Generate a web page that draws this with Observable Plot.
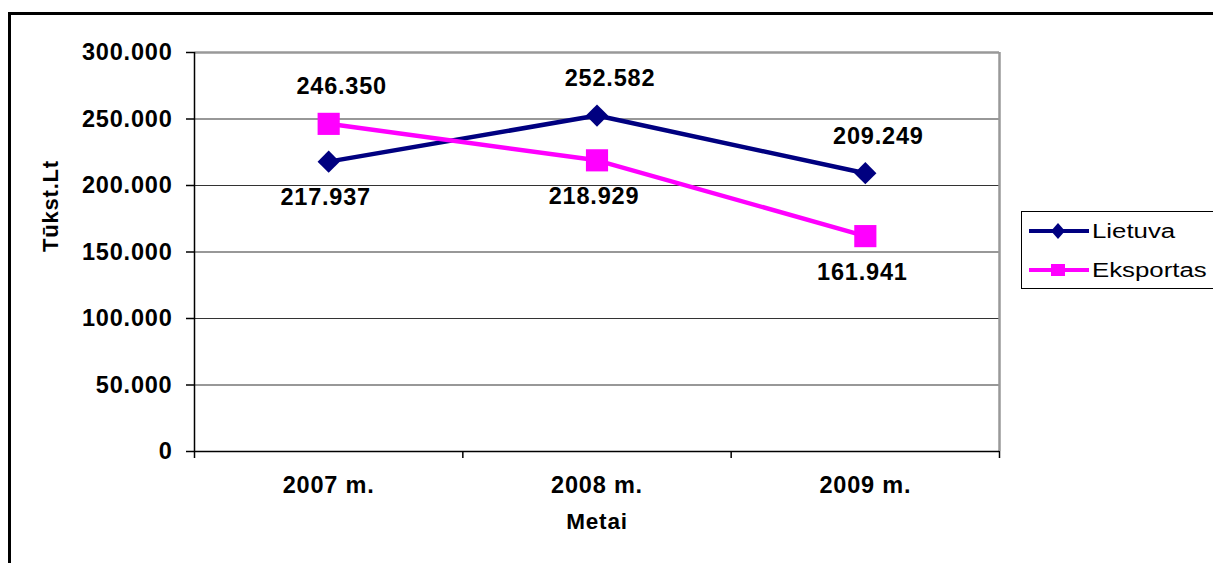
<!DOCTYPE html>
<html>
<head>
<meta charset="utf-8">
<script src="https://cdn.jsdelivr.net/npm/d3@7"></script>
<script src="https://cdn.jsdelivr.net/npm/@observablehq/plot@0.6"></script>
<style>
  html, body { margin: 0; padding: 0; width: 1213px; height: 563px; overflow: hidden; background: #fff; }
  #frame { position: absolute; left: 8px; top: 12px; width: 1400px; height: 800px; border: 3px solid #000; pointer-events: none; z-index: 3; }
  #chart { position: absolute; left: 0; top: 0; z-index: 1; }
  #legend { position: absolute; left: 1021px; top: 211px; width: 300px; height: 76px; border: 1.5px solid #000; background: #fff; z-index: 2;
            font-family: "Liberation Sans", Arial, sans-serif; font-size: 20px; color: #000; }
  .item { position: absolute; left: 6px; height: 24px; display: flex; align-items: center; }
  .item svg { display: block; }
  .item span { display: inline-block; transform: scaleX(1.29); transform-origin: left center; margin-left: 2px; }
</style>
</head>
<body>
<div id="frame"></div>
<div id="chart"></div>
<div id="legend"></div>
<script>
// ---- data ----
const categories = ["2007 m.", "2008 m.", "2009 m."];
const seriesNames = ["Lietuva", "Eksportas"];
const lietuva = [217937, 252582, 209249];
const eksportas = [246350, 218929, 161941];
const yTicks = [0, 50000, 100000, 150000, 200000, 250000, 300000];
const seriesColors = ["#000080", "#FF00FF"];
const xTitle = "Metai";
const yTitle = "Tūkst.Lt";

const fmt = d3.formatLocale({decimal: ",", thousands: ".", grouping: [3], currency: ["", ""]}).format(",d");

const values = [lietuva, eksportas];
const rows = [];
seriesNames.forEach((s, k) => {
  values[k].forEach((v, i) => {
    rows.push({series: s, i, value: v, other: values[1 - k][i]});
  });
});
const boundaries = d3.range(categories.length + 1).map(j => j - 0.5);
const catIdx = categories.map((_, i) => i);

const chart = Plot.plot({
  width: 1213,
  height: 563,
  marginLeft: 194,
  marginRight: 214,
  marginTop: 52,
  marginBottom: 112,
  style: {fontFamily: "'Liberation Sans', Arial, sans-serif", fontSize: "23.5px", fontWeight: "bold", letterSpacing: "0.8px", color: "#000", background: "transparent", overflow: "visible"},
  x: {type: "linear", domain: [-0.5, categories.length - 0.5]},
  y: {domain: [yTicks[0], yTicks[yTicks.length - 1]]},
  color: {domain: seriesNames, range: seriesColors},
  marks: [
    Plot.ruleY(yTicks.slice(1, -1), {stroke: "#333", strokeWidth: 1.2}),
    Plot.ruleY([yTicks[yTicks.length - 1]], {stroke: "#999", strokeWidth: 2.5}),
    Plot.ruleX([boundaries[boundaries.length - 1]], {stroke: "#999", strokeWidth: 2.5}),
    Plot.ruleX([boundaries[0]], {stroke: "#000", strokeWidth: 1.5}),
    Plot.ruleY([0], {stroke: "#000", strokeWidth: 1.5}),
    Plot.axisY({ticks: yTicks, tickSize: 8, tickPadding: 14, tickFormat: fmt, label: null, strokeWidth: 1.5}),
    Plot.axisX({ticks: boundaries, tickSize: 7, tickFormat: () => "", label: null, strokeWidth: 1.5}),
    Plot.axisX({ticks: catIdx, tickSize: 0, tickPadding: 25, tickFormat: i => categories[i], label: null}),
    Plot.text([yTitle], {frameAnchor: "left", rotate: -90, dx: -144, fontSize: 22, letterSpacing: "1.2px"}),
    Plot.text([xTitle], {frameAnchor: "bottom", dy: 77, fontSize: 22.5, letterSpacing: "1.6px"}),
    Plot.line(rows, {x: "i", y: "value", z: "series", stroke: "series", strokeWidth: 4.5}),
    Plot.dot(rows.filter(d => d.series === seriesNames[0]), {x: "i", y: "value", symbol: "diamond2", r: 10, fill: seriesColors[0], stroke: "none"}),
    Plot.dot(rows.filter(d => d.series === seriesNames[1]), {x: "i", y: "value", symbol: "square", r: 12.5, fill: seriesColors[1], stroke: "none"}),
    Plot.text(rows.filter(d => d.value > d.other), {x: "i", y: "value", text: d => fmt(d.value), dy: -37, dx: 13, fill: "#000"}),
    Plot.text(rows.filter(d => d.value <= d.other), {x: "i", y: "value", text: d => fmt(d.value), dy: 36, dx: -3, fill: "#000"})
  ]
});
document.getElementById("chart").appendChild(chart);

// ---- legend ----
const legend = document.getElementById("legend");
const symbols = [
  '<path d="M30,2 L37,10 L30,18 L23,10 Z" fill="#000080"/>',
  '<rect x="23" y="4" width="14" height="12" fill="#FF00FF"/>'
];
seriesNames.forEach((s, k) => {
  const item = document.createElement("div");
  item.className = "item";
  item.style.top = (k === 0 ? 7 : 46) + "px";
  item.innerHTML = `<svg width="62" height="20"><line x1="1" x2="61" y1="10" y2="10" stroke="${seriesColors[k]}" stroke-width="4"/>${symbols[k]}</svg><span>${s}</span>`;
  legend.appendChild(item);
});
</script>
</body>
</html>
